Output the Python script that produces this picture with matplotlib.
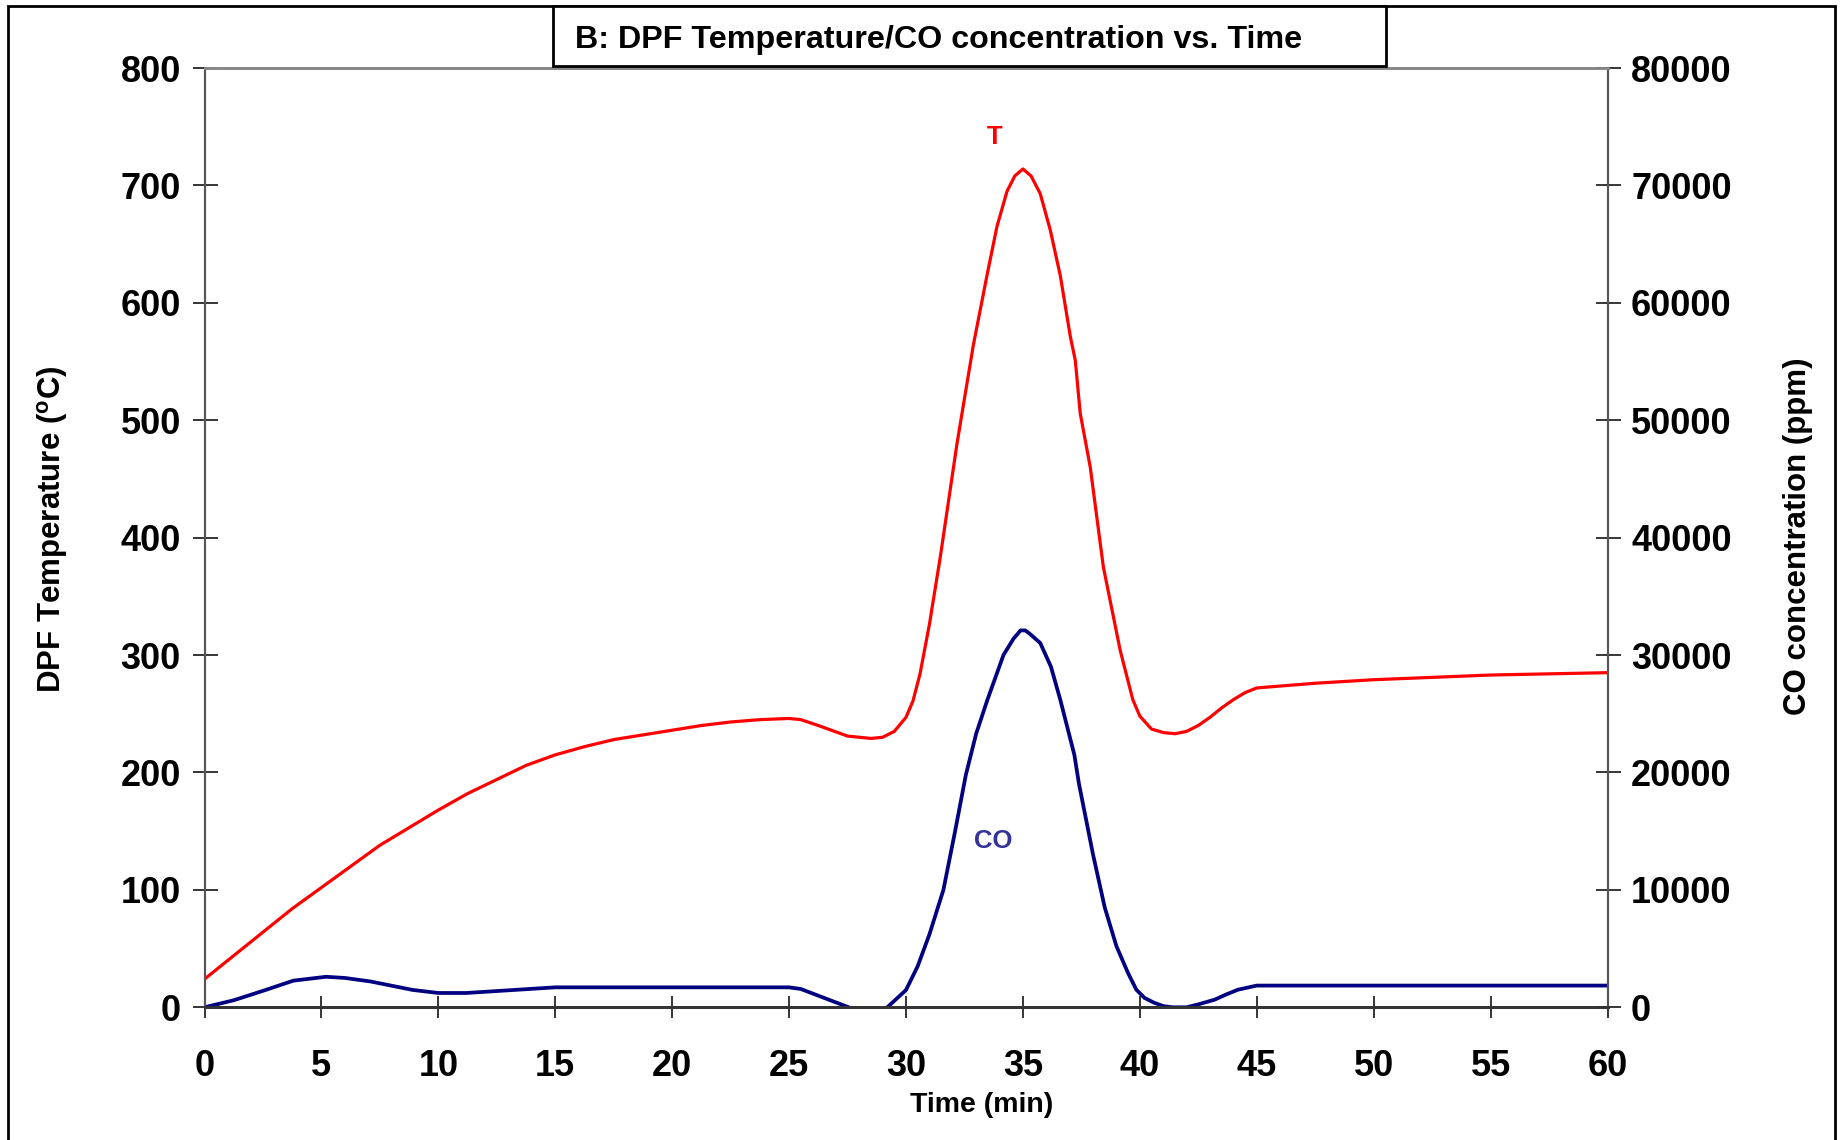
import matplotlib
matplotlib.use('Agg')
import matplotlib.pyplot as plt
from matplotlib.patches import Rectangle

plt.rcParams['font.family'] = ['Liberation Sans', 'DejaVu Sans']
plt.rcParams['font.weight'] = 'bold'
plt.rcParams['mathtext.fontset'] = 'custom'
plt.rcParams['mathtext.rm'] = 'Liberation Sans:bold'
plt.rcParams['mathtext.bf'] = 'Liberation Sans:bold'

# DPF temperature (deg C) vs time (min)
time_T = [0, 1.25, 2.5, 3.75, 5, 6.25, 7.5, 8.75, 10, 11.25, 12.5, 13.75, 15,
          16.25, 17.5, 18.75, 20, 21.25, 22.5, 23.75, 25, 25.5, 26.25, 27.5,
          28.5, 29, 29.5, 30, 30.3, 30.6, 31, 31.47, 32.18, 32.88, 33.46,
          33.89, 34.32, 34.65, 35, 35.35, 35.74, 36.17, 36.6, 37.03, 37.24, 37.45, 37.88,
          38.44, 39.16, 39.7, 40, 40.5, 41, 41.5, 42, 42.5, 43, 43.5, 44, 44.5,
          45, 47.5, 50, 55, 60]
temp_T = [24, 44, 64, 84, 102, 120, 138, 153, 168, 182, 194, 206, 215,
          222, 228, 232, 236, 240, 243, 245, 246, 245, 240, 231,
          229, 230, 235, 247, 261, 284, 326, 384, 480, 564, 623,
          665, 695, 708, 714, 708, 693, 662, 623, 571, 551, 506, 460,
          375, 304, 262, 248, 237, 234, 233, 235, 240, 247, 255, 262, 268,
          272, 276, 279, 283, 285]

# CO concentration (ppm) vs time (min)
time_CO = [0, 1.25, 2.5, 3.8, 5.2, 6, 7.1, 8.9, 10, 11.2, 15, 25, 25.5, 27.55,
           28.4, 29.2, 30, 30.5, 31, 31.6, 32.1, 32.56, 33, 33.48, 34.17, 34.6, 34.9, 35.1, 35.3,
           35.74, 36.2, 36.6, 37.2, 37.4, 38, 38.5, 39, 39.5, 39.85, 40.2, 40.6,
           41, 41.4, 42, 42.5, 43.2, 43.7, 44.2, 45, 50, 55, 60]
co_ppm = [0, 600, 1400, 2270, 2600, 2500, 2200, 1480, 1220, 1220, 1700, 1700, 1560, 0,
          -600, 0, 1470, 3500, 6200, 10000, 15000, 19800, 23300, 26180, 30010, 31400, 32100, 32100, 31800,
          31030, 29000, 26180, 21500, 19000, 13000, 8500, 5200, 2900, 1500, 800, 400,
          100, 0, 0, 250, 650, 1100, 1500, 1850, 1850, 1850, 1850]

x_ticks = list(range(0, 61, 5))
t_ticks = list(range(0, 801, 100))
co_ticks = list(range(0, 80001, 10000))

W, H = 1843, 1140
fig = plt.figure(figsize=(W / 100, H / 100), dpi=100)
ax = fig.add_axes([204.5 / W, 1 - 1007.3 / H, (1607.5 - 204.5) / W, (1007.3 - 68) / H])
ax2 = ax.twinx()

ax.plot(time_T, temp_T, color='#FF0000', lw=2.3, solid_joinstyle='round')
ax2.plot(time_CO, co_ppm, color='#000080', lw=2.7, solid_joinstyle='round')

ax.set_xlim(0, 60)
ax.set_ylim(0, 800)
ax2.set_ylim(0, 80000)
ax.set_xticks(x_ticks)
ax.set_yticks(t_ticks)
ax2.set_yticks(co_ticks)

for a in (ax, ax2):
    for s in ('left', 'right'):
        a.spines[s].set_color('#555555')
        a.spines[s].set_linewidth(1.5)
    a.spines['bottom'].set_color('#333333')
    a.spines['bottom'].set_linewidth(2)
    a.spines['top'].set_color('#888888')
    a.spines['top'].set_linewidth(2)

ax.tick_params(axis='y', direction='inout', length=18, width=1.1, labelsize=26, pad=8)
ax2.tick_params(axis='y', direction='inout', length=18, width=1.1, labelsize=26, pad=8)
ax.tick_params(axis='x', direction='inout', length=16.5, width=1.1, labelsize=26, pad=22)

# axis titles
fig.text(53 / W, 1 - 529 / H, r'DPF Temperature ($^{\mathbf{o}}$C)', rotation=90,
         ha='center', va='center', fontsize=22.5, fontweight='bold')
fig.text(1798 / W, 1 - 536 / H, 'CO concentration (ppm)', rotation=90,
         ha='center', va='center', fontsize=22.5, fontweight='bold')
fig.text(982 / W, 1 - 1105 / H, 'Time (min)', ha='center', va='center',
         fontsize=20.5, fontweight='bold')

# curve labels
ax.text(33.78, 741, 'T', color='#FF0000', fontsize=18.5, fontweight='bold',
        ha='center', va='center')
ax2.text(33.75, 14200, 'CO', color='#333399', fontsize=18.5, fontweight='bold',
         ha='center', va='center')

# outer frame and title box
fig.add_artist(Rectangle((8 / W, -0.05), (1835 - 8) / W, 1.05 - 6 / H,
                         transform=fig.transFigure, fill=False, ec='black', lw=2, zorder=10))
fig.add_artist(Rectangle((553 / W, 1 - 66 / H), (1386 - 553) / W, 60 / H,
                         transform=fig.transFigure, fc='white', ec='black', lw=2, zorder=10))
fig.text(575 / W, 1 - 40 / H, 'B: DPF Temperature/CO concentration vs. Time',
         ha='left', va='center', fontsize=23.2, fontweight='bold', zorder=11)

fig.savefig('out.png', dpi=100)
